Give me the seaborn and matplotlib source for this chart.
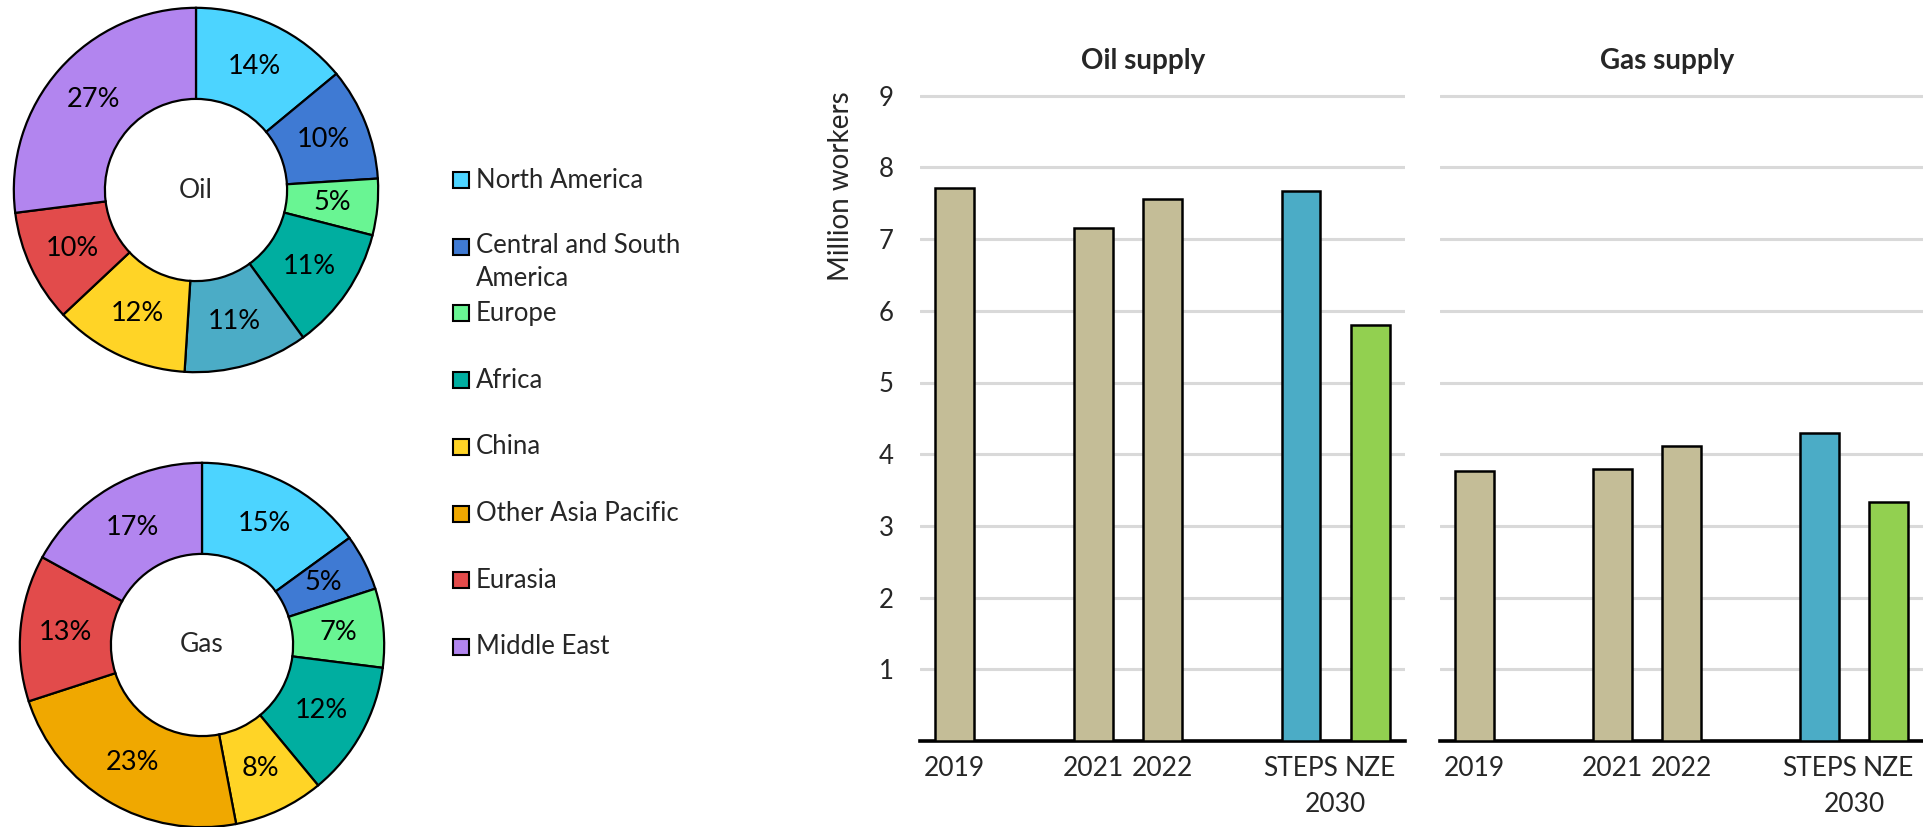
import matplotlib
matplotlib.use("Agg")
import matplotlib.pyplot as plt
import seaborn as sns
import pandas as pd
from matplotlib.patches import Rectangle

# ---------------- data ----------------
regions = ["North America", "Central and South America", "Europe", "Africa",
           "China", "Other Asia Pacific", "Eurasia", "Middle East"]
legend_labels = ["North America", "Central and South\nAmerica", "Europe", "Africa",
                 "China", "Other Asia Pacific", "Eurasia", "Middle East"]
region_colors = ["#4CD4FF", "#3F7AD3", "#69F593", "#00AEA0",
                 "#FFD426", "#F0A800", "#E24B4B", "#B285EF"]

oil_segments = ["North America", "Central and South America", "Europe", "Africa",
                "Other Asia Pacific", "China", "Eurasia", "Middle East"]
oil_share = [14, 10, 5, 11, 11, 12, 10, 27]
oil_colors = ["#4CD4FF", "#3F7AD3", "#69F593", "#00AEA0",
              "#4BACC6", "#FFD426", "#E24B4B", "#B285EF"]

gas_segments = regions
gas_share = [15, 5, 7, 12, 8, 23, 13, 17]
gas_colors = region_colors

bar_order = ["2019", "2020", "2021", "2022", "gap", "STEPS", "NZE"]
bar_cats = ["2019", "2021", "2022", "STEPS", "NZE"]
bar_ticklabels = ["2019", "2021", "2022", "STEPS", "NZE"]
oil_workers = [7.71, 7.16, 7.56, 7.67, 5.80]
gas_workers = [3.77, 3.79, 4.11, 4.29, 3.33]
bar_colors = {"2019": "#C4BD97", "2021": "#C4BD97", "2022": "#C4BD97",
              "STEPS": "#4BACC6", "NZE": "#92D050"}

# ---------------- style ----------------
sns.set_style("white")
plt.rcParams['font.family'] = ['Lato', 'DejaVu Sans']

W, H = 1923, 827
fig = plt.figure(figsize=(W / 100, H / 100), dpi=100)


def fig_rect(left, top, width, height):
    return [left / W, (H - top - height) / H, width / W, height / H]


# ---------------- donuts ----------------
def donut(rect, shares, colors, center_label):
    ax = fig.add_axes(rect)
    ax.pie(shares, colors=colors, startangle=90, counterclock=False,
           radius=1.0, pctdistance=0.75, autopct=lambda p: f"{p:.0f}%",
           wedgeprops=dict(width=0.5, edgecolor="black", linewidth=1.6),
           textprops=dict(fontsize=19.5, color="black"))
    ax.text(0, 0, center_label, ha="center", va="center", fontsize=19)
    ax.set_xlim(-1.01, 1.01)
    ax.set_ylim(-1.01, 1.01)
    ax.set_aspect("equal")
    ax.axis("off")
    return ax


donut(fig_rect(12, 6, 368, 368), oil_share, oil_colors, "Oil")
donut(fig_rect(18, 461, 368, 368), gas_share, gas_colors, "Gas")

# ---------------- legend ----------------
leg_x = 453
leg_y0 = 180
leg_dy = 66.7
sq = 16
for i, (lab, col) in enumerate(zip(legend_labels, region_colors)):
    yc = leg_y0 + i * leg_dy
    fig.patches.append(Rectangle((leg_x / W, (H - yc - sq / 2) / H), sq / W, sq / H,
                                 transform=fig.transFigure, facecolor=col,
                                 edgecolor="black", linewidth=1.5))
    if "\n" in lab:
        fig.text((leg_x + sq + 7) / W, (H - yc + 14) / H, lab, ha="left", va="top",
                 fontsize=18.5, linespacing=1.4)
    else:
        fig.text((leg_x + sq + 7) / W, (H - yc) / H, lab, ha="left", va="center",
                 fontsize=18.5)

# ---------------- bar charts ----------------
ytop = 9.05
plot_h = 645.3 * ytop / 9
bottom_px = 741


def barpanel(left, width, values, title, title_x, show_y):
    ax = fig.add_axes(fig_rect(left, bottom_px - plot_h, width, plot_h))
    df = pd.DataFrame({"cat": bar_cats, "value": values})
    sns.barplot(data=df, x="cat", y="value", hue="cat", order=bar_order,
                palette=bar_colors, saturation=1, width=0.56, edgecolor="black",
                linewidth=1.8, legend=False, ax=ax, zorder=3)
    ax.set_xlim(-0.5, 6.5)
    ax.set_ylim(0, ytop)
    ax.set_yticks(range(1, 10))
    ax.yaxis.grid(True, color="#D9D9D9", linewidth=2.2)
    ax.set_axisbelow(True)
    for s in ["top", "right", "left"]:
        ax.spines[s].set_visible(False)
    ax.spines["bottom"].set_color("black")
    ax.spines["bottom"].set_linewidth(2.6)
    pos = [bar_order.index(c) for c in bar_cats]
    ax.set_xticks(pos)
    ax.set_xticklabels(bar_ticklabels, fontsize=19)
    ax.tick_params(axis="x", length=0, pad=11)
    ax.set_xlabel("")
    if show_y:
        ax.tick_params(axis="y", length=0, pad=19, labelsize=18.5)
        ax.set_ylabel("Million workers", fontsize=20)
        ax.yaxis.set_label_coords(-0.137, 0.8545)
    else:
        ax.tick_params(axis="y", length=0, labelleft=False)
        ax.set_ylabel("")
    mid = (bar_order.index("STEPS") + bar_order.index("NZE")) / 2
    ax.text(mid, -(804 - bottom_px) / plot_h, "2030", transform=ax.get_xaxis_transform(),
            ha="center", va="center", fontsize=19)
    ax.text(title_x, 1 + 31 / plot_h, title, transform=ax.transAxes,
            ha="center", va="center", fontsize=20, fontweight="bold")
    return ax


barpanel(920, 485, oil_workers, "Oil supply", 0.46, True)
barpanel(1440, 483, gas_workers, "Gas supply", 0.47, False)

fig.savefig("out.png", dpi=100)
